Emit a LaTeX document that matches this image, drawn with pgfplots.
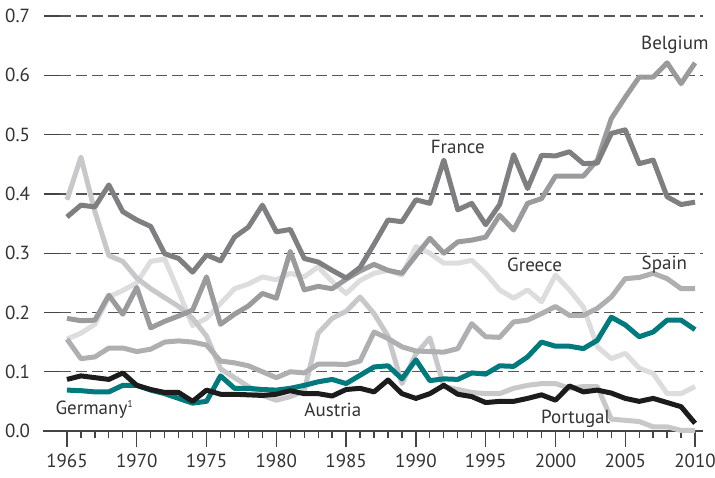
\documentclass[border=0pt]{standalone}
\usepackage{pgfplots}
\pgfplotsset{compat=1.18}
\usepackage{pgfplotstable}
\usepackage{fontspec}
\setmainfont{PT Sans}
\definecolor{cfr}{HTML}{7F7F82}
\definecolor{cbe}{HTML}{9B9B9E}
\definecolor{ces}{HTML}{AFAFB1}
\definecolor{cpt}{HTML}{C8C8CA}
\definecolor{cgr}{HTML}{DDDDDE}
\definecolor{ctl}{HTML}{007A7C}
\definecolor{cbk}{HTML}{1C1C1C}
\definecolor{cax}{HTML}{444444}
\definecolor{cgrid}{HTML}{555555}
\definecolor{ctxt}{HTML}{333333}
\pgfplotstableread{
year fr be es gr pt tl bk
1965 0.361 0.190 0.155 0.155 0.390 0.069 0.087
1966 0.381 0.186 0.122 0.165 0.462 0.068 0.093
1967 0.378 0.187 0.125 0.180 0.370 0.066 0.090
1968 0.415 0.229 0.140 0.226 0.296 0.066 0.087
1969 0.370 0.197 0.140 0.237 0.286 0.077 0.098
1970 0.356 0.242 0.134 0.250 0.258 0.077 0.077
1971 0.345 0.174 0.138 0.286 0.240 0.069 0.070
1972 0.299 0.185 0.150 0.290 0.225 0.063 0.065
1973 0.291 0.194 0.152 0.235 0.210 0.055 0.065
1974 0.268 0.204 0.150 0.178 0.190 0.047 0.050
1975 0.297 0.260 0.145 0.190 0.160 0.050 0.069
1976 0.287 0.180 0.118 0.215 0.105 0.093 0.062
1977 0.327 0.197 0.115 0.240 0.090 0.072 0.062
1978 0.344 0.211 0.110 0.248 0.075 0.072 0.061
1979 0.381 0.232 0.100 0.260 0.060 0.070 0.060
1980 0.336 0.224 0.090 0.255 0.052 0.069 0.062
1981 0.340 0.303 0.100 0.266 0.058 0.072 0.068
1982 0.291 0.238 0.098 0.260 0.068 0.077 0.063
1983 0.285 0.244 0.113 0.277 0.165 0.083 0.063
1984 0.271 0.240 0.113 0.252 0.190 0.087 0.059
1985 0.258 0.256 0.112 0.232 0.202 0.080 0.070
1986 0.276 0.270 0.118 0.254 0.226 0.094 0.072
1987 0.315 0.281 0.167 0.266 0.198 0.108 0.066
1988 0.356 0.271 0.156 0.271 0.160 0.110 0.086
1989 0.353 0.266 0.142 0.263 0.080 0.088 0.063
1990 0.390 0.296 0.135 0.311 0.130 0.120 0.055
1991 0.384 0.325 0.134 0.300 0.157 0.085 0.063
1992 0.457 0.300 0.133 0.283 0.075 0.088 0.077
1993 0.373 0.319 0.139 0.283 0.070 0.087 0.062
1994 0.384 0.322 0.181 0.288 0.065 0.098 0.058
1995 0.348 0.327 0.159 0.266 0.063 0.096 0.048
1996 0.382 0.364 0.158 0.238 0.063 0.110 0.050
1997 0.466 0.339 0.184 0.224 0.072 0.109 0.050
1998 0.409 0.384 0.187 0.238 0.077 0.125 0.055
1999 0.465 0.392 0.198 0.218 0.080 0.150 0.061
2000 0.464 0.430 0.210 0.263 0.080 0.143 0.052
2001 0.471 0.430 0.195 0.238 0.072 0.143 0.076
2002 0.451 0.430 0.195 0.209 0.075 0.139 0.066
2003 0.452 0.457 0.207 0.142 0.075 0.153 0.069
2004 0.502 0.527 0.226 0.122 0.020 0.192 0.064
2005 0.508 0.563 0.257 0.131 0.018 0.179 0.055
2006 0.451 0.597 0.259 0.106 0.016 0.159 0.050
2007 0.457 0.597 0.266 0.097 0.007 0.167 0.055
2008 0.395 0.621 0.257 0.063 0.007 0.187 0.048
2009 0.382 0.586 0.240 0.063 0.001 0.187 0.041
2010 0.386 0.621 0.240 0.075 0.001 0.171 0.013
}\data
\begin{document}
\begin{tikzpicture}
\useasboundingbox (-30pt,-23pt) rectangle (327.5pt,215.5pt);
\begin{axis}[
  at={(0,0)}, anchor=south west,
  scale only axis, width=321.5pt, height=207.5pt,
  xmin=1964.5, xmax=2010.57, ymin=0, ymax=0.7,
  clip=false,
  axis x line*=bottom, axis y line*=left,
  x axis line style={-, draw=cax, line width=0.65pt, shorten <=-8.5pt},
  y axis line style={draw=none},
  xtick={1965,1970,...,2010},
  minor xtick={1965,...,2010},
  ytick={0,0.1,0.2,0.3,0.4,0.5,0.6,0.7},
  tick align=outside,
  major tick length=8pt, minor tick length=3.5pt,
  tick style={draw=cax, line width=0.65pt},
  xtick pos=bottom, ytick pos=left,
  ymajorgrids,
  major grid style={dash pattern=on 5.5pt off 2.5pt, draw=cgrid, line width=0.65pt},
  /pgf/number format/assume math mode=true,
  every tick label/.append style={font=\fontsize{9.5}{10}\selectfont, text=ctxt},
  xticklabel style={/pgf/number format/1000 sep={}},
  yticklabel style={xshift=-3.5pt, /pgf/number format/fixed, /pgf/number format/precision=1, /pgf/number format/fixed zerofill},
  every axis plot/.append style={line width=2.5pt, line join=round, no markers},
]
\addplot[cgr] table[x=year,y=gr]{\data};
\addplot[cpt] table[x=year,y=pt]{\data};
\addplot[ces] table[x=year,y=es]{\data};
\addplot[cbe] table[x=year,y=be]{\data};
\addplot[cfr] table[x=year,y=fr]{\data};
\addplot[ctl] table[x=year,y=tl]{\data};
\addplot[cbk] table[x=year,y=bk]{\data};
\begin{scope}[every node/.style={text=ctxt, font=\fontsize{9.5}{10}\selectfont}]
\node at (axis cs:2008.55,0.651) {Belgium};
\node at (axis cs:1993.0,0.479) {France};
\node at (axis cs:1998.5,0.28) {Greece};
\node at (axis cs:2007.8,0.28) {Spain};
\node at (axis cs:1966.95,0.037) {Germany\raisebox{0.75ex}{\fontsize{5}{5}\selectfont 1}};
\node at (axis cs:1984.05,0.035) {Austria};
\node at (axis cs:2001.45,0.02) {Portugal};
\end{scope}
\end{axis}
\end{tikzpicture}
\end{document}
